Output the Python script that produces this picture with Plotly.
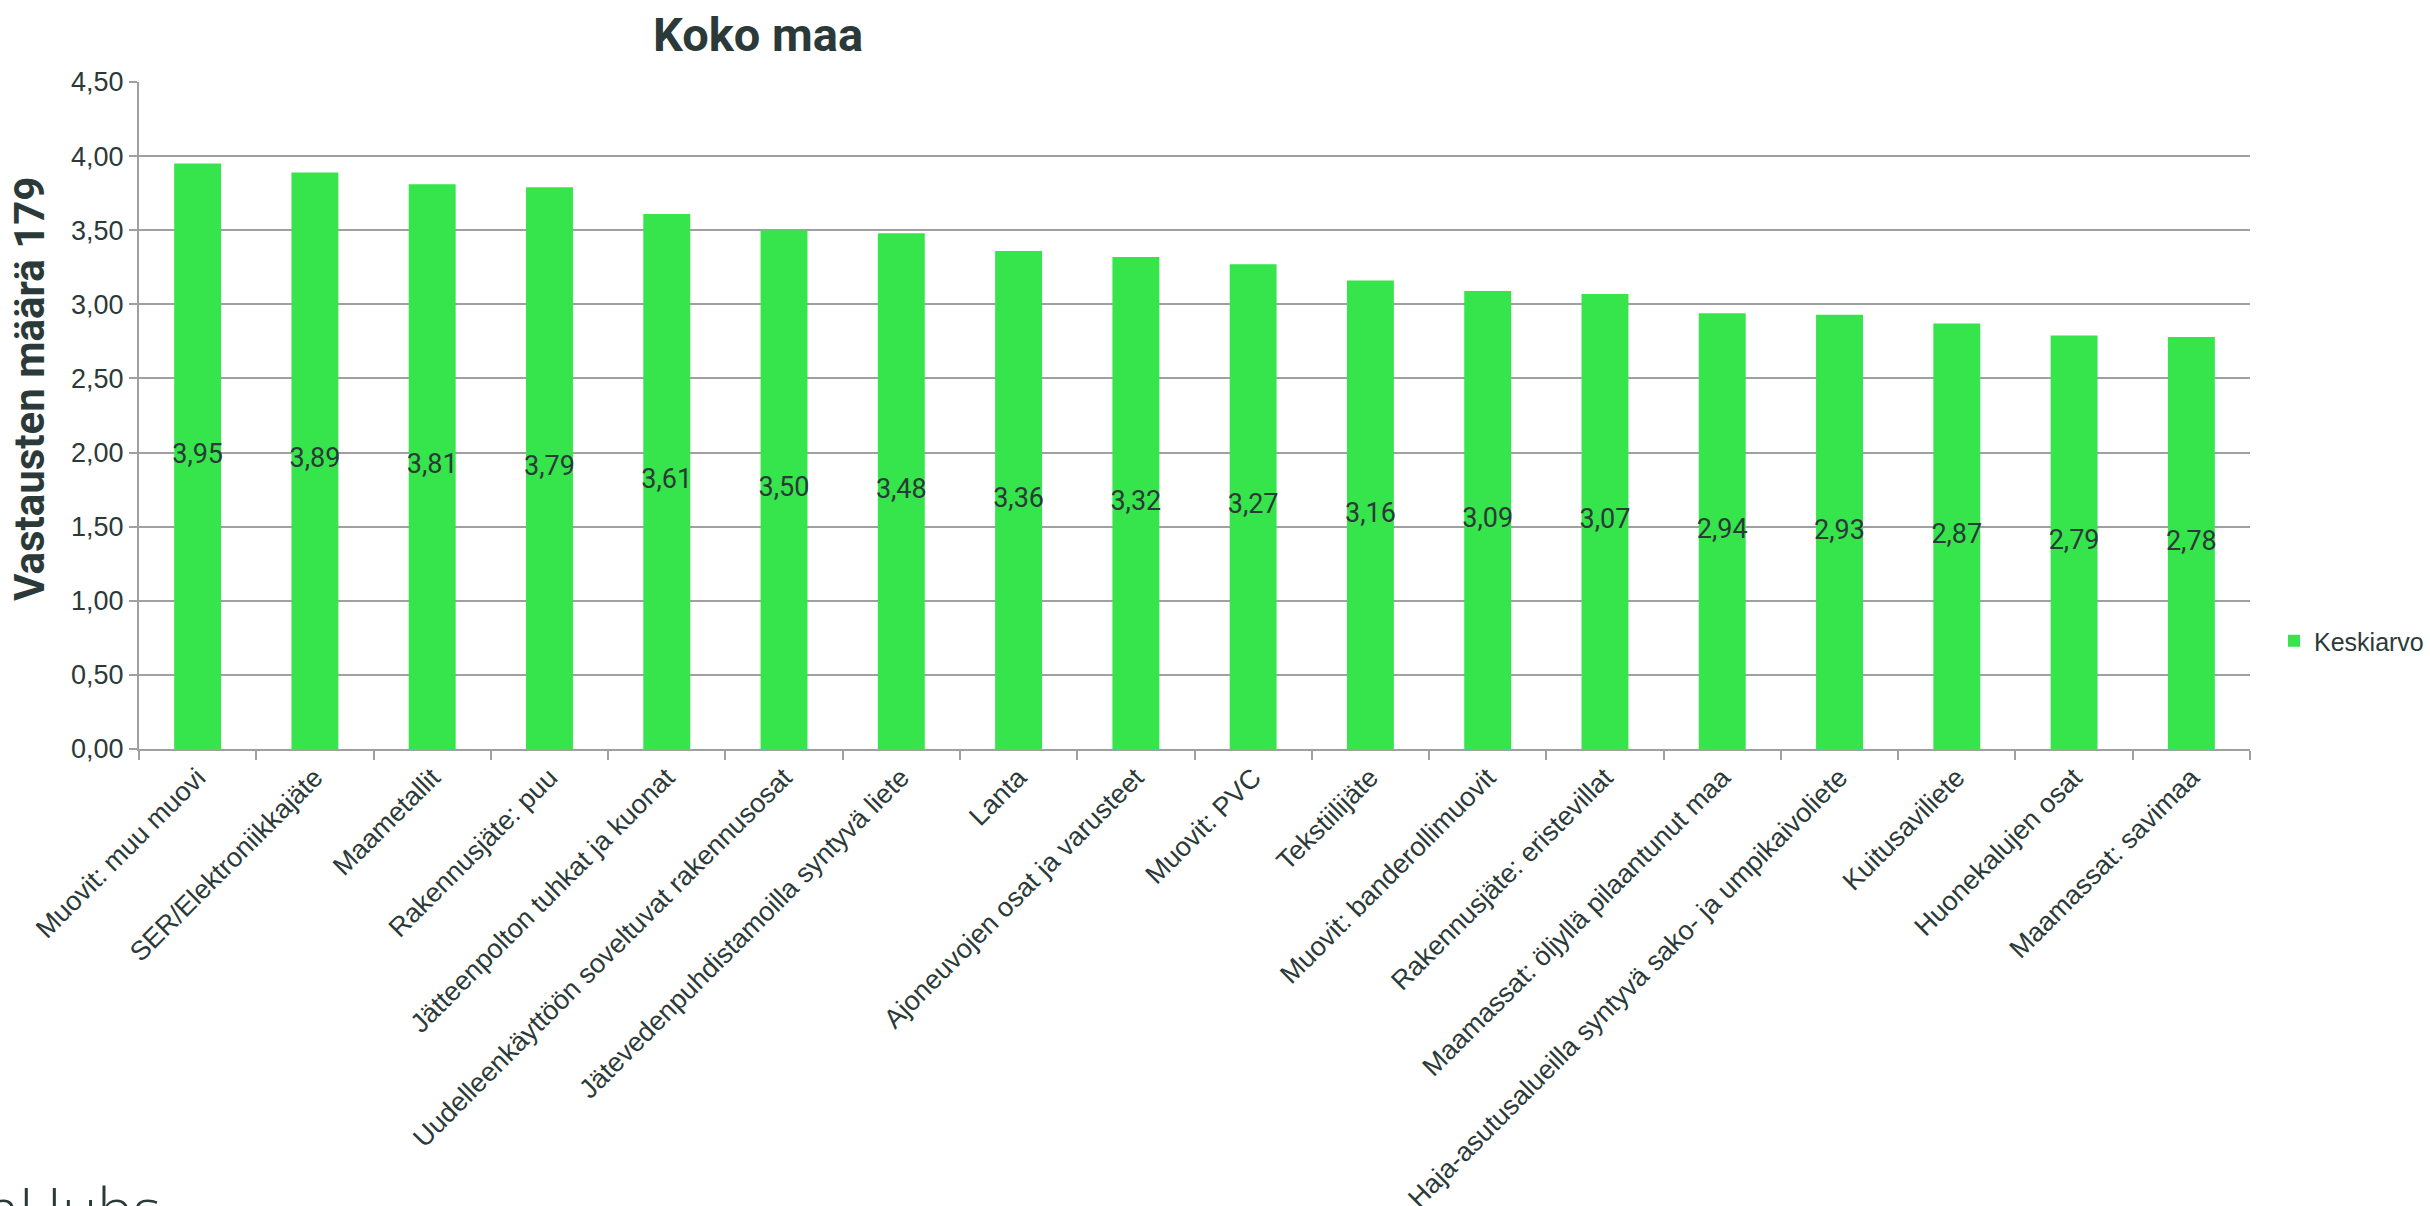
import plotly.graph_objects as go

categories = [
    "Muovit: muu muovi",
    "SER/Elektroniikkajäte",
    "Maametallit",
    "Rakennusjäte: puu",
    "Jätteenpolton tuhkat ja kuonat",
    "Uudelleenkäyttöön soveltuvat rakennusosat",
    "Jätevedenpuhdistamoilla syntyvä liete",
    "Lanta",
    "Ajoneuvojen osat ja varusteet",
    "Muovit: PVC",
    "Tekstiilijäte",
    "Muovit: banderollimuovit",
    "Rakennusjäte: eristevillat",
    "Maamassat: öljyllä pilaantunut maa",
    "Haja-asutusalueilla syntyvä sako- ja umpikaivoliete",
    "Kuitusaviliete",
    "Huonekalujen osat",
    "Maamassat: savimaa",
]
values = [3.95, 3.89, 3.81, 3.79, 3.61, 3.50, 3.48, 3.36, 3.32, 3.27,
          3.16, 3.09, 3.07, 2.94, 2.93, 2.87, 2.79, 2.78]
series_name = "Keskiarvo"
title_text = "Koko maa"
y_title = "Vastausten määrä 179"
y_ticks = [0, 0.5, 1.0, 1.5, 2.0, 2.5, 3.0, 3.5, 4.0, 4.5]
logo_text = "aHubs"

TEXT = "#2b3a38"
GRID = "#a0a0a0"
GREEN = "#36e44b"

W, H = 2430, 1206
X0, X1, Y0, Y1 = 139, 2250, 82, 749   # plot area in pixels
L, R, T, B = X0, W - X1, Y0, H - Y1
PW, PH = X1 - X0, Y1 - Y0

fig = go.Figure()
fig.add_trace(go.Bar(
    x=categories, y=values, name=series_name,
    marker=dict(color=GREEN, line=dict(width=0)),
    hoverinfo="x+y",
))
fig.add_trace(go.Scatter(
    x=categories, y=[v / 2 for v in values],
    mode="text",
    text=[f"{v:.2f}".replace(".", ",") for v in values],
    textposition="middle center",
    textfont=dict(family="Roboto", size=27, color=TEXT),
    showlegend=False, hoverinfo="skip",
))

fig.update_layout(
    width=W, height=H,
    margin=dict(l=L, r=R, t=T, b=B, autoexpand=False),
    paper_bgcolor="white", plot_bgcolor="white",
    separators=", ",
    bargap=0.6,
    title=dict(
        text=f"<b>{title_text}</b>",
        font=dict(family="Roboto", size=47, color=TEXT),
        x=758 / W, xref="container", xanchor="center",
        y=1 - 35 / H, yref="container", yanchor="middle",
    ),
    xaxis=dict(
        type="category",
        range=[-0.5, len(categories) - 0.5],
        tickson="boundaries",
        ticks="outside", ticklen=9, tickwidth=2, tickcolor=GRID,
        showline=True, linecolor=GRID, linewidth=2,
        showgrid=False,
        tickangle=-45,
        tickfont=dict(family="Liberation Sans, Arial", size=27, color=TEXT),
    ),
    yaxis=dict(
        range=[0, 4.5],
        tickvals=y_ticks,
        tickformat=".2f",
        ticks="outside", ticklen=8, tickwidth=2, tickcolor=GRID,
        showline=True, linecolor=GRID, linewidth=2,
        showgrid=True, gridcolor=GRID, gridwidth=2,
        zeroline=False,
        tickfont=dict(family="Liberation Sans, Arial", size=27, color=TEXT),
    ),
    legend=dict(
        x=(2274 - L) / PW, xanchor="left",
        y=(Y1 - 641) / PH, yanchor="middle",
        font=dict(family="Liberation Sans, Arial", size=25, color=TEXT),
        bgcolor="rgba(0,0,0,0)",
        itemwidth=30,
    ),
    showlegend=True,
    annotations=[
        dict(
            text=f"<b>{y_title}</b>",
            textangle=-90,
            xref="paper", yref="paper",
            x=(29 - L) / PW, xanchor="center",
            y=(Y1 - 389) / PH, yanchor="middle",
            showarrow=False,
            font=dict(family="Roboto", size=42, color=TEXT),
        ),
        dict(
            text=logo_text,
            xref="paper", yref="paper",
            x=(-15 - L) / PW, xanchor="left",
            y=(Y1 - 1166) / PH, yanchor="top",
            showarrow=False,
            font=dict(family="Open Sans", size=60, color=TEXT, weight=300),
        ),
    ],
)

fig.write_html(
    "out.html",
    config={"displayModeBar": False},
    post_script="document.body.style.margin='0';document.body.style.overflow='hidden';",
)
